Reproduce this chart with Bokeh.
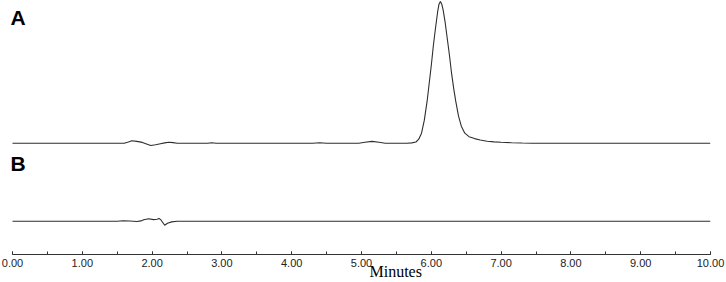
from bokeh.plotting import figure
from bokeh.models import Range1d, SingleIntervalTicker, NumeralTickFormatter, Label, Title
from bokeh.embed import file_html
from bokeh.resources import INLINE

# ---- data (time in minutes, detector signal) ----
time_a = [0.00, 1.60, 1.66, 1.71, 1.78, 1.86, 1.93, 1.98, 2.05, 2.12, 2.18, 2.24,
          2.30, 2.36, 2.80, 2.85, 2.92, 4.30, 4.40, 4.50, 4.96, 5.05, 5.15, 5.25,
          5.34, 5.65, 5.72, 5.78, 5.82, 5.86, 5.90, 5.94, 5.97, 6.00, 6.03, 6.06,
          6.09, 6.11, 6.13, 6.15, 6.17, 6.20, 6.23, 6.26, 6.29, 6.32, 6.35, 6.39,
          6.43, 6.48, 6.54, 6.62, 6.70, 6.80, 6.90, 7.00, 7.15, 7.30, 7.45, 10.00]
signal_a = [0.0, 0.0, 1.2, 2.5, 1.8, 0.8, -1.0, -2.3, -1.5, -0.5, 0.3, 1.0,
            0.6, 0.0, 0.0, 0.4, 0.0, 0.0, 0.4, 0.0, 0.0, 1.0, 1.8, 1.0,
            0.0, 0.0, 0.3, 1.2, 4.0, 10.0, 23.0, 42.0, 60.0, 78.0, 98.0, 115.0,
            131.0, 139.0, 141.7, 139.0, 133.0, 120.0, 104.0, 88.0, 70.0, 55.0, 42.0, 27.0,
            17.0, 10.0, 6.5, 4.6, 3.2, 2.0, 1.3, 0.9, 0.5, 0.2, 0.0, 0.0]

time_b = [0.00, 1.50, 1.58, 1.68, 1.78, 1.84, 1.88, 1.95, 2.02, 2.07, 2.10, 2.13,
          2.18, 2.22, 2.28, 2.36, 10.00]
signal_b = [0.0, 0.0, 0.4, 0.2, -0.3, 0.3, 1.5, 2.5, 1.6, 2.0, 2.8, 1.0,
            -4.0, -2.0, -0.7, 0.0, 0.0]

x_start, x_end = 0.0, 10.0
tick_interval = 1.0
trace_labels = ["A", "B"]
x_label = "Minutes"

# vertical stacking of the two traces (layout only)
offset_a = 111.3
offset_b = 33.3

p = figure(width=726, height=282, output_backend="svg", toolbar_location=None,
           x_range=Range1d(-0.172, x_end), y_range=Range1d(0, 254),
           y_axis_location=None, min_border_left=0, min_border_right=16,
           min_border_top=0, min_border_bottom=28)
p.outline_line_color = None
p.xgrid.visible = False
p.ygrid.visible = False
p.background_fill_color = "white"
p.border_fill_color = "white"

p.line(time_a, [s + offset_a for s in signal_a], line_color="#2e2e2e", line_width=1.1)
p.line(time_b, [s + offset_b for s in signal_b], line_color="#2e2e2e", line_width=1.1)

ax = p.xaxis[0]
ax.bounds = (x_start, x_end)
ax.ticker = SingleIntervalTicker(interval=tick_interval, num_minor_ticks=2)
ax.formatter = NumeralTickFormatter(format="0.00")
ax.axis_line_color = "#333333"
ax.axis_line_width = 1
ax.major_tick_in = 3
ax.major_tick_out = 0
ax.minor_tick_in = 3
ax.minor_tick_out = 0
ax.major_tick_line_color = "#333333"
ax.minor_tick_line_color = "#333333"
ax.major_label_standoff = 4
ax.major_label_text_font = "Liberation Sans"
ax.major_label_text_font_size = "11px"
ax.major_label_text_color = "#222222"

p.add_layout(Title(text=x_label, align="left", offset=369, standoff=-14,
                   vertical_align="top",
                   text_font="Liberation Serif", text_font_size="16px",
                   text_font_style="normal", text_color="black"), "below")

p.add_layout(Label(x=-0.029, y=237, text=trace_labels[0], text_font="Liberation Sans",
                   text_font_style="bold", text_font_size="21px", text_color="black",
                   text_baseline="alphabetic", text_align="left"))
p.add_layout(Label(x=-0.029, y=91, text=trace_labels[1], text_font="Liberation Sans",
                   text_font_style="bold", text_font_size="21px", text_color="black",
                   text_baseline="alphabetic", text_align="left"))

open("out.html", "w").write(file_html(p, INLINE))
